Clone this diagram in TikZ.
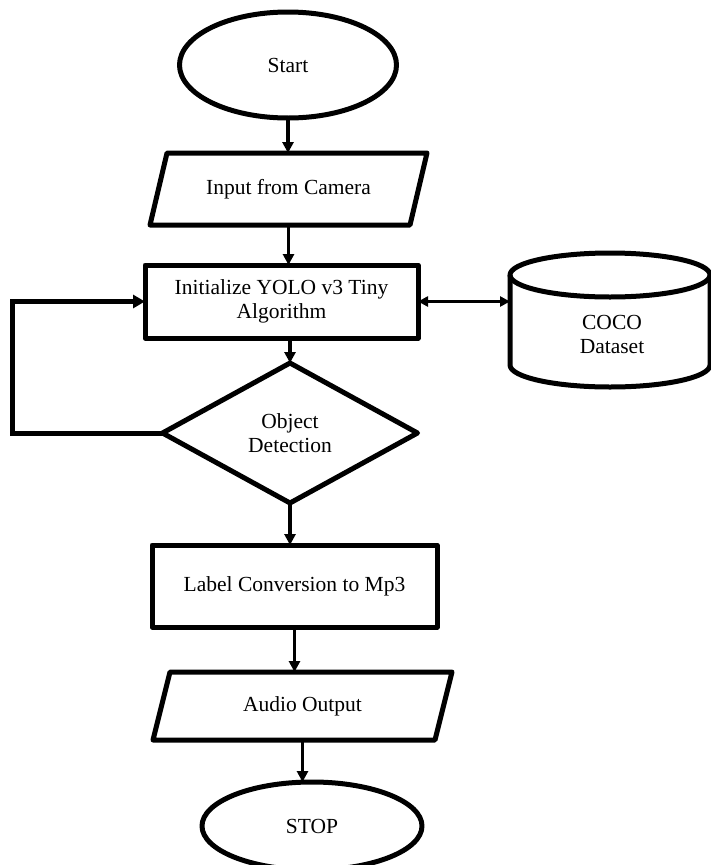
\documentclass[tikz,border=0pt]{standalone}
\usepackage{fontspec}
\setmainfont{Liberation Serif}
\usetikzlibrary{shapes.geometric,arrows.meta}
\begin{document}
\begin{tikzpicture}[x=1pt,y=-1pt,
  font=\fontsize{21.5}{24}\selectfont,
  shp/.style={draw=black,line width=5pt,line join=round,inner sep=0pt,outer sep=0pt,align=center},
  ghost/.style={inner sep=0pt,outer sep=0pt,align=center},
  conn/.style={line width=3.5pt,-{Triangle[length=11pt,width=11pt]}},
  loopline/.style={line width=5pt,-{Triangle[length=12pt,width=13pt]}},
  bidir/.style={line width=2.5pt,{Triangle[length=10pt,width=10pt]}-{Triangle[length=10pt,width=10pt]}}]
\useasboundingbox (0,0) rectangle (711,865);
\fill[white] (0,0) rectangle (711,865);

% Start
\node[shp,ellipse,minimum width=217,minimum height=106] (start) at (288,65) {Start};

% Input from Camera (parallelogram)
\node[ghost,minimum width=277,minimum height=72] (in) at (288.5,189) {Input from Camera};
\draw[shp] ([xshift=17pt]in.north west) -- (in.north east) -- ([xshift=-17pt]in.south east) -- (in.south west) -- cycle;

% Initialize
\node[shp,rectangle,minimum width=273,minimum height=73] (init) at (281.5,301.5) {Initialize YOLO v3 Tiny\\Algorithm};

% Object detection
\node[shp,diamond,minimum width=255,minimum height=140] (dia) at (290,433) {Object\\Detection};

% COCO dataset (cylinder)
\node[ghost,minimum width=200,minimum height=134] (coco) at (610,320) {};
\draw[shp] (coco.west |- 0,275) -- (coco.west |- 0,365)
  arc[start angle=180,end angle=0,x radius=100,y radius=22] -- (coco.east |- 0,275);
\draw[shp] (610,275) ellipse[x radius=100,y radius=22];
\node[ghost] (cocotext) at (612,334) {COCO\\Dataset};

% Label conversion
\node[shp,rectangle,minimum width=285,minimum height=82] (label) at (294.5,586) {Label Conversion to Mp3};

% Audio output (parallelogram)
\node[ghost,minimum width=299,minimum height=68] (audio) at (302.5,706) {Audio Output};
\draw[shp] ([xshift=17pt]audio.north west) -- (audio.north east) -- ([xshift=-17pt]audio.south east) -- (audio.south west) -- cycle;

% Stop
\node[shp,ellipse,minimum width=220,minimum height=88] (stop) at (312,826) {STOP};

% connectors
\draw[conn] (start.south) -- (start.south |- in.north);
\draw[conn] (in.south) -- (in.south |- init.north);
\draw[conn] (dia.north |- init.south) -- (dia.north);
\draw[conn] (dia.south) -- (dia.south |- label.north);
\draw[conn] (label.south) -- (label.south |- audio.north);
\draw[conn] (audio.south) -- (audio.south |- stop.north);
\draw[loopline] (dia.west) -- ++(-150,0) |- (init.west);
\draw[bidir] (init.east) -- (init.east -| coco.west);
\end{tikzpicture}
\end{document}
